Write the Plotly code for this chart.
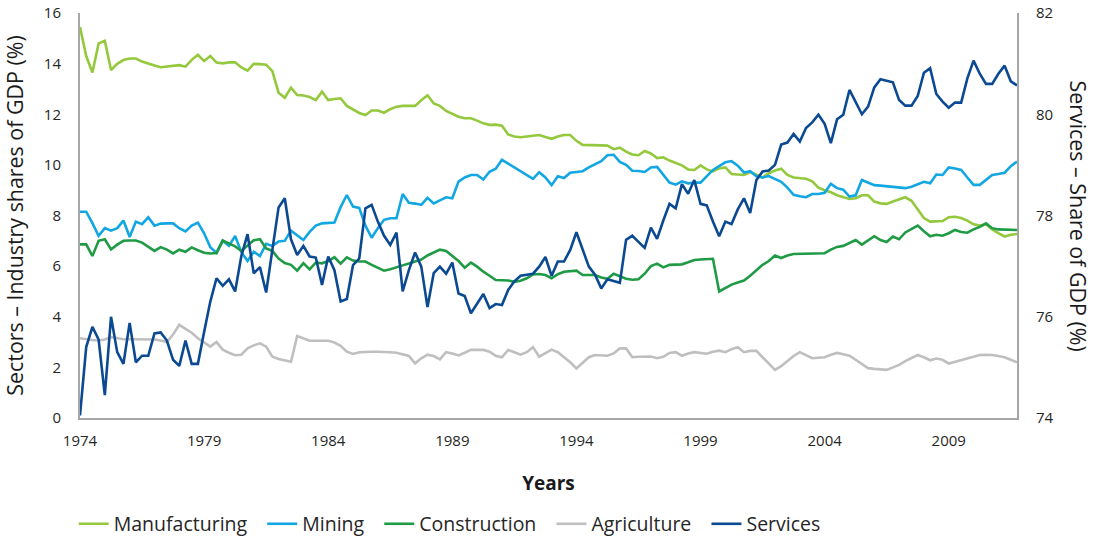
import plotly.graph_objects as go

start_year = 1974
tick_years = [1974, 1979, 1984, 1989, 1994, 1999, 2004, 2009]

manufacturing = [
    15.45, 14.3, 13.65, 14.8, 14.9, 13.75, 13.99, 14.14,
    14.2, 14.2, 14.08, 13.99, 13.93, 13.86, 13.88, 13.91,
    13.94, 13.88, 14.15, 14.35, 14.1, 14.3, 14.04, 14.01,
    14.05, 14.05, 13.85, 13.72, 13.99, 13.98, 13.96, 13.7,
    12.85, 12.65, 13.05, 12.76, 12.74, 12.68, 12.56, 12.89,
    12.56, 12.60, 12.63, 12.33, 12.2, 12.05, 11.97, 12.15,
    12.15, 12.06, 12.2, 12.3, 12.33, 12.33, 12.33, 12.55,
    12.75, 12.43, 12.33, 12.13, 12.0, 11.9, 11.84, 11.84,
    11.75, 11.64, 11.58, 11.59, 11.55, 11.2, 11.12, 11.09,
    11.12, 11.15, 11.18, 11.1, 11.03, 11.12, 11.18, 11.18,
    10.95, 10.79, 10.79, 10.78, 10.77, 10.76, 10.62, 10.68,
    10.52, 10.41, 10.38, 10.55, 10.45, 10.27, 10.3, 10.17,
    10.08, 9.98, 9.82, 9.8, 9.98, 9.82, 9.74, 9.86,
    9.9, 9.64, 9.62, 9.6, 9.72, 9.6, 9.5, 9.67,
    9.78, 9.85, 9.6, 9.5, 9.47, 9.45, 9.35, 9.1,
    9.0, 8.92, 8.8, 8.72, 8.65, 8.68, 8.8, 8.8,
    8.55, 8.48, 8.46, 8.55, 8.65, 8.72, 8.58, 8.25,
    7.9, 7.76, 7.76, 7.78, 7.93, 7.95, 7.9, 7.8,
    7.65, 7.6, 7.65, 7.45, 7.3, 7.17, 7.24, 7.27,
]

mining = [
    8.15, 8.15, 7.7, 7.2, 7.5, 7.4, 7.5, 7.8,
    7.15, 7.76, 7.66, 7.93, 7.6, 7.68, 7.69, 7.69,
    7.5, 7.37, 7.6, 7.72, 7.3, 6.75, 6.52, 7.0,
    6.8, 7.19, 6.55, 6.2, 6.57, 6.4, 6.88, 6.8,
    6.97, 7.0, 7.4, 7.23, 7.03, 7.35, 7.6, 7.69,
    7.7, 7.72, 8.33, 8.81, 8.35, 8.3, 7.6, 7.12,
    7.5, 7.83, 7.89, 7.89, 8.85, 8.5, 8.47, 8.42,
    8.7, 8.48, 8.6, 8.72, 8.68, 9.34, 9.5, 9.6,
    9.6, 9.42, 9.73, 9.85, 10.2, 10.05, 9.88, 9.75,
    9.6, 9.45, 9.71, 9.5, 9.2, 9.55, 9.48, 9.69,
    9.72, 9.75, 9.9, 10.02, 10.15, 10.38, 10.4, 10.12,
    10.0, 9.77, 9.76, 9.72, 9.9, 9.92, 9.6, 9.3,
    9.22, 9.35, 9.27, 9.3, 9.3, 9.55, 9.8, 9.95,
    10.1, 10.15, 9.97, 9.7, 9.75, 9.55, 9.5, 9.56,
    9.45, 9.33, 9.1, 8.82, 8.76, 8.72, 8.85, 8.85,
    8.9, 9.25, 9.08, 9.02, 8.75, 8.8, 9.4, 9.3,
    9.2, 9.18, 9.16, 9.14, 9.1, 9.08, 9.14, 9.23,
    9.33, 9.27, 9.62, 9.6, 9.9, 9.86, 9.8, 9.5,
    9.21, 9.21, 9.4, 9.6, 9.64, 9.69, 9.95, 10.13,
]

construction = [
    6.86, 6.86, 6.4, 7.0, 7.06, 6.66, 6.85, 7.0,
    7.01, 7.01, 6.93, 6.75, 6.6, 6.75, 6.65, 6.5,
    6.65, 6.57, 6.74, 6.63, 6.53, 6.5, 6.52, 7.01,
    6.88, 6.78, 6.6, 6.8, 7.02, 7.06, 6.7, 6.6,
    6.3, 6.12, 6.05, 5.82, 6.12, 5.87, 6.14, 6.11,
    6.2, 6.35, 6.1, 6.35, 6.22, 6.18, 6.18, 6.05,
    5.93, 5.82, 5.88, 5.94, 6.03, 6.1, 6.18, 6.26,
    6.42, 6.55, 6.65, 6.6, 6.4, 6.2, 5.94, 6.14,
    5.98, 5.78, 5.62, 5.45, 5.44, 5.43, 5.38, 5.42,
    5.52, 5.67, 5.69, 5.65, 5.52, 5.68, 5.78, 5.8,
    5.82, 5.65, 5.65, 5.65, 5.55, 5.5, 5.7, 5.6,
    5.5, 5.46, 5.48, 5.7, 6.0, 6.1, 5.95, 6.05,
    6.07, 6.07, 6.15, 6.24, 6.26, 6.28, 6.29, 5.0,
    5.15, 5.27, 5.35, 5.43, 5.62, 5.85, 6.05, 6.2,
    6.42, 6.32, 6.42, 6.48, 6.49, 6.49, 6.5, 6.5,
    6.51, 6.65, 6.76, 6.8, 6.92, 7.03, 6.85, 7.0,
    7.18, 7.03, 6.95, 7.17, 7.06, 7.33, 7.48, 7.6,
    7.38, 7.18, 7.24, 7.2, 7.3, 7.43, 7.35, 7.32,
    7.45, 7.55, 7.69, 7.5, 7.45, 7.45, 7.44, 7.43,
]

agriculture = [
    3.15, 3.1, 3.08, 3.06, 3.1, 3.2, 3.15, 3.11,
    3.11, 3.11, 3.11, 3.11, 3.1, 3.06, 3.0, 3.3,
    3.68, 3.52, 3.37, 3.15, 2.98, 2.82, 3.0, 2.7,
    2.58, 2.48, 2.5, 2.75, 2.87, 2.95, 2.82, 2.42,
    2.33, 2.28, 2.22, 3.24, 3.15, 3.05, 3.05, 3.05,
    3.05, 2.98, 2.85, 2.62, 2.53, 2.6, 2.62, 2.62,
    2.62, 2.62, 2.6, 2.58, 2.53, 2.45, 2.16, 2.36,
    2.5, 2.45, 2.32, 2.6, 2.55, 2.47, 2.58, 2.69,
    2.69, 2.69, 2.62, 2.46, 2.4, 2.69, 2.6, 2.5,
    2.6, 2.8, 2.42, 2.55, 2.7, 2.6, 2.4, 2.2,
    1.96, 2.2, 2.4, 2.49, 2.47, 2.46, 2.55, 2.75,
    2.75, 2.4, 2.42, 2.44, 2.43, 2.36, 2.42, 2.57,
    2.6, 2.46, 2.55, 2.6, 2.58, 2.54, 2.62, 2.66,
    2.6, 2.72, 2.8, 2.6, 2.65, 2.65, 2.4, 2.15,
    1.9, 2.05, 2.25, 2.45, 2.6, 2.48, 2.36, 2.38,
    2.4, 2.5, 2.57, 2.52, 2.46, 2.3, 2.12, 1.97,
    1.94, 1.93, 1.9, 2.0, 2.1, 2.25, 2.38, 2.49,
    2.4, 2.28, 2.35, 2.3, 2.15, 2.22, 2.3, 2.38,
    2.44, 2.49, 2.5, 2.49, 2.45, 2.4, 2.3, 2.2,
]

services = [
    74.05, 75.4, 75.8, 75.55, 74.45, 76.0, 75.3, 75.07,
    75.88, 75.1, 75.23, 75.23, 75.67, 75.69, 75.53, 75.15,
    75.03, 75.53, 75.07, 75.07, 75.7, 76.3, 76.76, 76.61,
    76.74, 76.5, 77.2, 77.63, 76.86, 76.98, 76.48, 77.3,
    78.16, 78.34, 77.53, 77.22, 77.40, 77.19, 77.17, 76.63,
    77.19, 76.92, 76.30, 76.35, 77.02, 77.15, 78.14, 78.21,
    77.88, 77.6, 77.42, 77.66, 76.50, 76.92, 77.27, 76.99,
    76.19, 76.86, 76.99, 76.85, 77.07, 76.46, 76.41, 76.07,
    76.27, 76.45, 76.17, 76.25, 76.23, 76.53, 76.7, 76.81,
    76.83, 76.85, 76.99, 77.18, 76.81, 77.09, 77.09, 77.32,
    77.67, 77.32, 76.99, 76.83, 76.56, 76.74, 76.70, 76.67,
    77.52, 77.60, 77.48, 77.36, 77.76, 77.54, 77.9, 78.23,
    78.14, 78.62, 78.43, 78.70, 78.23, 78.20, 77.88, 77.59,
    77.88, 77.83, 78.12, 78.34, 78.05, 78.70, 78.87, 78.89,
    79.0, 79.40, 79.44, 79.61, 79.46, 79.73, 79.84, 79.99,
    79.81, 79.43, 79.90, 79.99, 80.48, 80.25, 80.00, 80.15,
    80.53, 80.69, 80.66, 80.63, 80.28, 80.17, 80.17, 80.36,
    80.82, 80.91, 80.40, 80.25, 80.13, 80.23, 80.23, 80.71,
    81.06, 80.80, 80.60, 80.60, 80.80, 80.96, 80.65, 80.57,
]

def quarters(values):
    return [start_year + i / 4 for i in range(len(values))]

series = [
    ("Manufacturing", manufacturing, "#94C83D", "y"),
    ("Mining", mining, "#12A7E2", "y"),
    ("Construction", construction, "#1F9A45", "y"),
    ("Agriculture", agriculture, "#BFBFBF", "y"),
    ("Services", services, "#0B4A92", "y2"),
]

legend_pad = "\u00a0\u00a0"

fig = go.Figure()
for name, vals, color, yax in series:
    fig.add_trace(go.Scatter(
        x=quarters(vals), y=vals, name=name + legend_pad, mode="lines",
        line=dict(color=color, width=2.6), yaxis=yax,
    ))

x_end = start_year + (len(services) - 1) / 4
font_family = "Open Sans, DejaVu Sans, sans-serif"
axis_color = "#A6A6A6"

fig.update_layout(
    width=1094, height=538,
    margin=dict(l=80, r=77, t=13, b=120, autoexpand=False),
    paper_bgcolor="white", plot_bgcolor="white",
    font=dict(family=font_family, color="#262626", size=15),
    showlegend=True,
    legend=dict(orientation="h", x=-0.0067, xanchor="left", y=-0.262, yanchor="middle",
                font=dict(size=19.5, color="#262626"), traceorder="normal",
                itemwidth=30, bgcolor="rgba(0,0,0,0)"),
    xaxis=dict(
        range=[start_year, x_end], tickmode="array", tickvals=tick_years,
        ticktext=[str(y) for y in tick_years], showgrid=False, zeroline=False,
        showline=True, linecolor=axis_color, linewidth=2, ticks="",
        ticklabelstandoff=8, tickfont=dict(size=15, color="#262626"),
        automargin=False,
        title=dict(text="<b>Years</b>", font=dict(size=19, color="#1a1a1a"), standoff=28),
    ),
    yaxis=dict(
        range=[0, 16], dtick=2, showgrid=False, zeroline=False,
        showline=True, linecolor=axis_color, linewidth=2, ticks="",
        ticklabelstandoff=14, tickfont=dict(size=15, color="#262626"),
        automargin=False, ticklabeloverflow="allow",
        title=dict(text="Sectors \u2013 Industry shares of GDP (%)",
                   font=dict(size=21.4, color="#1a1a1a"), standoff=19),
    ),
    yaxis2=dict(
        range=[74, 82], dtick=2, overlaying="y", side="right", showgrid=False,
        zeroline=False, showline=True, linecolor=axis_color, linewidth=2, ticks="",
        ticklabelstandoff=14, tickfont=dict(size=15, color="#262626"),
        automargin=False, ticklabeloverflow="allow",
    ),
    annotations=[dict(
        text="Services \u2013 Share of GDP (%)", textangle=90,
        xref="paper", yref="paper", x=1.0 + (1078 - 1017) / 937, y=0.5,
        xanchor="center", yanchor="middle", showarrow=False,
        font=dict(size=21.4, color="#1a1a1a"),
    )],
)

fig.write_html("out.html", config={"displayModeBar": False},
               post_script="document.body.style.margin='0';")
